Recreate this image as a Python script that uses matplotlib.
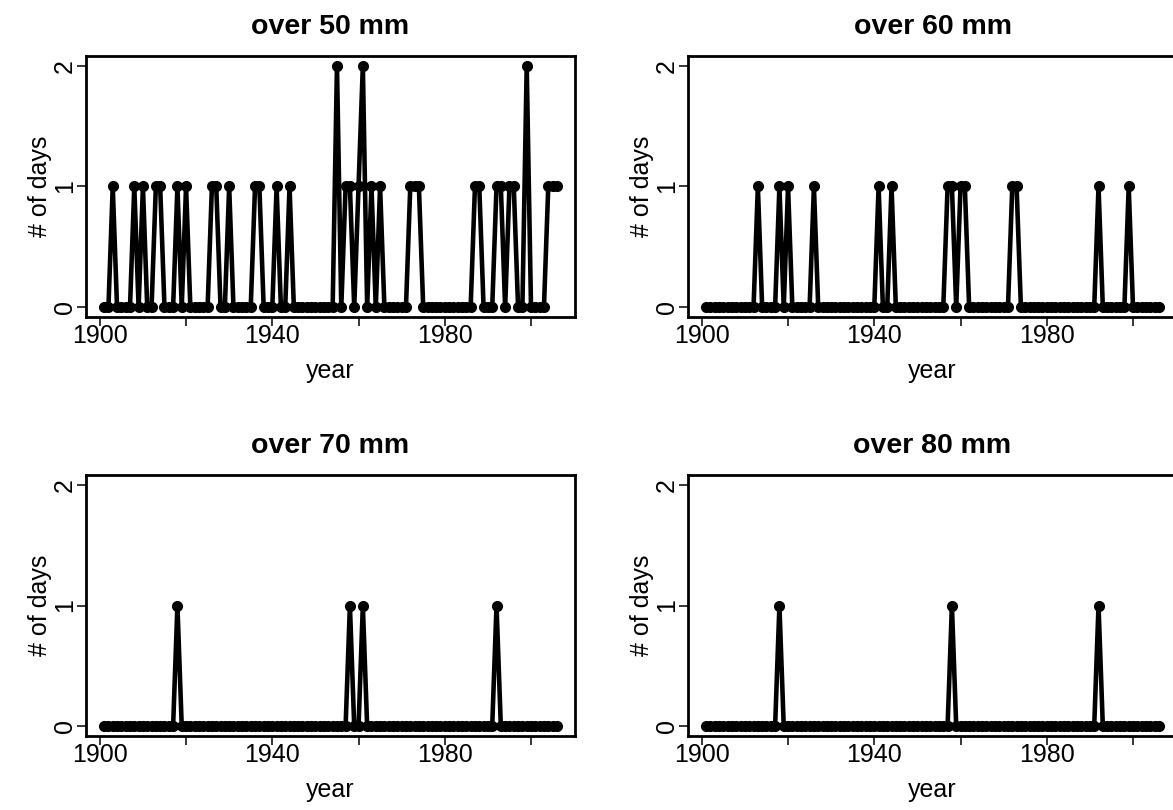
import numpy as np
import matplotlib
matplotlib.use("Agg")
import matplotlib.pyplot as plt

plt.rcParams['font.family'] = ['Liberation Sans', 'DejaVu Sans']

years = list(range(1901, 2007))

over_50 = [0, 0, 1, 0, 0, 0, 0, 1, 0, 1,      # 1901-1910
           0, 0, 1, 1, 0, 0, 0, 1, 0, 1,      # 1911-1920
           0, 0, 0, 0, 0, 1, 1, 0, 0, 1,      # 1921-1930
           0, 0, 0, 0, 0, 1, 1, 0, 0, 0,      # 1931-1940
           1, 0, 0, 1, 0, 0, 0, 0, 0, 0,      # 1941-1950
           0, 0, 0, 0, 2, 0, 1, 1, 0, 1,      # 1951-1960
           2, 0, 1, 0, 1, 0, 0, 0, 0, 0,      # 1961-1970
           0, 1, 1, 1, 0, 0, 0, 0, 0, 0,      # 1971-1980
           0, 0, 0, 0, 0, 0, 1, 1, 0, 0,      # 1981-1990
           0, 1, 1, 0, 1, 1, 0, 0, 2, 0,      # 1991-2000
           0, 0, 0, 1, 1, 1]                  # 2001-2006

over_60 = [0, 0, 0, 0, 0, 0, 0, 0, 0, 0,
           0, 0, 1, 0, 0, 0, 0, 1, 0, 1,
           0, 0, 0, 0, 0, 1, 0, 0, 0, 0,
           0, 0, 0, 0, 0, 0, 0, 0, 0, 0,
           1, 0, 0, 1, 0, 0, 0, 0, 0, 0,
           0, 0, 0, 0, 0, 0, 1, 1, 0, 1,
           1, 0, 0, 0, 0, 0, 0, 0, 0, 0,
           0, 1, 1, 0, 0, 0, 0, 0, 0, 0,
           0, 0, 0, 0, 0, 0, 0, 0, 0, 0,
           0, 1, 0, 0, 0, 0, 0, 0, 1, 0,
           0, 0, 0, 0, 0, 0]

over_70 = [0, 0, 0, 0, 0, 0, 0, 0, 0, 0,
           0, 0, 0, 0, 0, 0, 0, 1, 0, 0,
           0, 0, 0, 0, 0, 0, 0, 0, 0, 0,
           0, 0, 0, 0, 0, 0, 0, 0, 0, 0,
           0, 0, 0, 0, 0, 0, 0, 0, 0, 0,
           0, 0, 0, 0, 0, 0, 0, 1, 0, 0,
           1, 0, 0, 0, 0, 0, 0, 0, 0, 0,
           0, 0, 0, 0, 0, 0, 0, 0, 0, 0,
           0, 0, 0, 0, 0, 0, 0, 0, 0, 0,
           0, 1, 0, 0, 0, 0, 0, 0, 0, 0,
           0, 0, 0, 0, 0, 0]

over_80 = [0, 0, 0, 0, 0, 0, 0, 0, 0, 0,
           0, 0, 0, 0, 0, 0, 0, 1, 0, 0,
           0, 0, 0, 0, 0, 0, 0, 0, 0, 0,
           0, 0, 0, 0, 0, 0, 0, 0, 0, 0,
           0, 0, 0, 0, 0, 0, 0, 0, 0, 0,
           0, 0, 0, 0, 0, 0, 0, 1, 0, 0,
           0, 0, 0, 0, 0, 0, 0, 0, 0, 0,
           0, 0, 0, 0, 0, 0, 0, 0, 0, 0,
           0, 0, 0, 0, 0, 0, 0, 0, 0, 0,
           0, 1, 0, 0, 0, 0, 0, 0, 0, 0,
           0, 0, 0, 0, 0, 0]

titles = ["over 50 mm", "over 60 mm", "over 70 mm", "over 80 mm"]
series = [over_50, over_60, over_70, over_80]
x_ticks = [1900, 1920, 1940, 1960, 1980, 2000]
x_ticklabels = ["1900", "", "1940", "", "1980", ""]
y_ticks = [0, 1, 2]

W, H = 1173, 810
fig = plt.figure(figsize=(W / 100, H / 100), dpi=100)

# panel boxes in pixels: (left, top, right, bottom)
boxes = [(86, 56, 575, 317), (688, 56, 1177, 317),
         (86, 475, 575, 736), (688, 475, 1177, 736)]

for (l, t, r, b), title, vals in zip(boxes, titles, series):
    ax = fig.add_axes([l / W, 1 - b / H, (r - l) / W, (b - t) / H])
    ax.plot(years, vals, color='black', lw=3.3, marker='o', ms=7,
            solid_joinstyle='miter', clip_on=False)
    span = years[-1] - years[0]
    ax.set_xlim(years[0] - 0.04 * span, years[-1] + 0.04 * span)
    ax.set_ylim(-0.08, 2.08)
    ax.set_xticks(x_ticks)
    ax.set_xticklabels(x_ticklabels)
    ax.set_yticks(y_ticks)
    ax.set_yticklabels([str(v) for v in y_ticks], rotation=90, va='center')
    ax.tick_params(axis='both', direction='out', length=6.5, width=1.1,
                   labelsize=18)
    ax.tick_params(axis='x', pad=-1.5)
    ax.tick_params(axis='y', pad=0)
    for sp in ax.spines.values():
        sp.set_linewidth(2.0)
    ax.set_xlabel("year", fontsize=18, labelpad=8)
    ax.set_ylabel("# of days", fontsize=18, labelpad=0.5)
    ax.set_title(title, fontsize=20.5, fontweight='bold', pad=16)

fig.savefig("out.png", dpi=100)
